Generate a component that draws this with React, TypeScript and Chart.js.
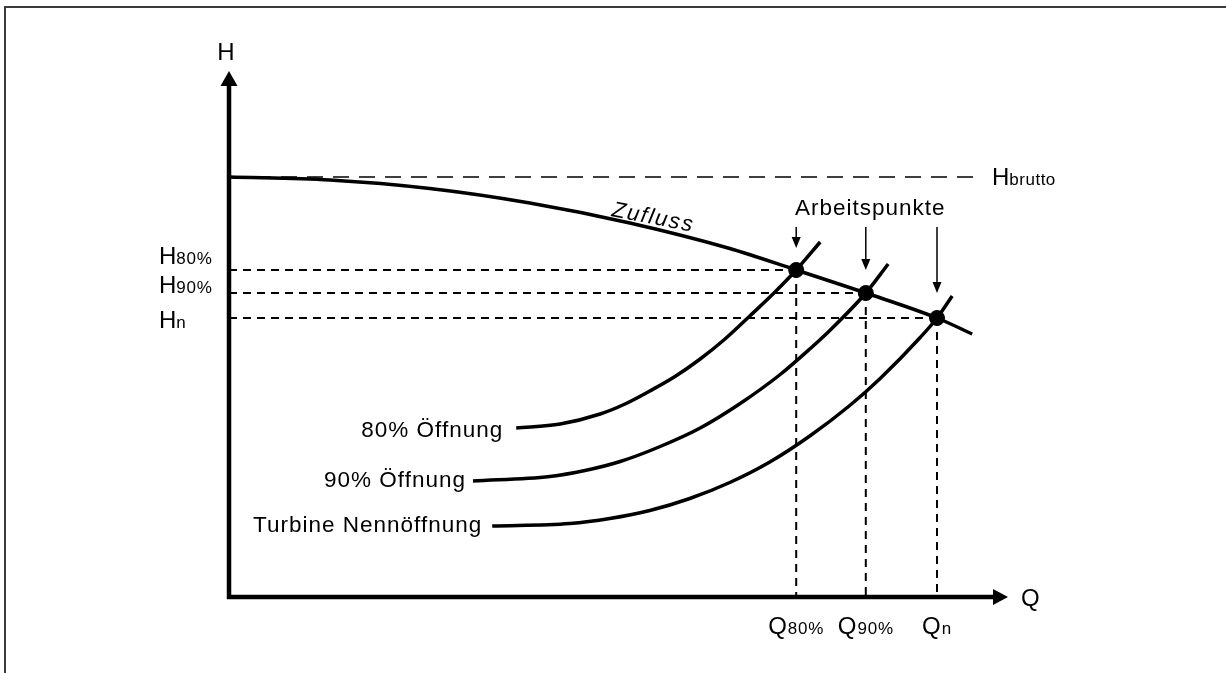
import React, { useEffect, useRef } from "react";
import { Chart, registerables } from "chart.js";

Chart.register(...registerables);

// Zufluss (inflow characteristic)
const Q_ZUFLUSS = [0, 12.6, 25.1, 37.6, 50.1, 62.6, 70.9, 79.6, 88.5, 92.9];
const H_ZUFLUSS = [84, 83.4, 81.7, 78.8, 74.8, 69.7, 65.4, 60.8, 55.8, 52.6];

// Turbine characteristic, 80% opening
const Q_T80 = [35.9, 41.4, 46.4, 49.5, 52.6, 55.75, 58.9, 62.0, 65.1, 68.25, 70.9, 73.9];
const H_T80 = [33.8, 34.6, 36.6, 38.6, 41.2, 44.1, 47.6, 51.6, 56.2, 61.0, 65.4, 71.0];

// Turbine characteristic, 90% opening
const Q_T90 = [30.5, 40.1, 44.5, 48.9, 53.75, 58.9, 63.9, 68.9, 72.6, 75.1, 79.6, 82.4];
const H_T90 = [23.2, 24.1, 25.3, 27.1, 30.0, 33.8, 38.7, 44.5, 49.6, 53.3, 60.8, 66.6];

// Turbine characteristic, nominal opening
const Q_TN = [32.9, 42.6, 47.6, 52.6, 57.6, 62.6, 67.6, 72.6, 77.6, 81.4, 86.4, 88.5, 90.4];
const H_TN = [14.2, 14.7, 15.7, 17.3, 19.7, 22.9, 27.0, 32.2, 38.3, 43.7, 51.9, 55.8, 60.2];

// Working points
const Q_WP = [70.9, 79.6, 88.5];
const H_WP = [65.4, 60.8, 55.8];
const Q_LABELS = ["80%", "90%", "n"];
const H_LABELS = ["80%", "90%", "n"];

const H_BRUTTO = 84;
const Q_BRUTTO_END = 93;

const CURVE_LABELS = ["80% Öffnung", "90% Öffnung", "Turbine Nennöffnung"];

const FONT = '"Liberation Sans", Arial, sans-serif';
const MAIN = 22.5;
const MAIN_LS = 1;
const CAP = 24;
const SUB = 17;
const SUB_LS = 0.8;

const pts = (xs: number[], ys: number[]) => xs.map((x, i) => ({ x, y: ys[i] }));

const annotations = {
  id: "annotations",
  afterDatasetsDraw(chart: any) {
    const ctx: CanvasRenderingContext2D = chart.ctx;
    const xs = chart.scales.x;
    const ys = chart.scales.y;
    const px = (v: number) => xs.getPixelForValue(v);
    const py = (v: number) => ys.getPixelForValue(v);
    const ox = px(0);
    const oy = py(0);

    ctx.save();
    // frame
    ctx.strokeStyle = "#3c3c3c";
    ctx.lineWidth = 2;
    ctx.beginPath();
    ctx.moveTo(5, 673);
    ctx.lineTo(5, 7);
    ctx.lineTo(1226, 7);
    ctx.stroke();

    // axes
    ctx.strokeStyle = "#000";
    ctx.fillStyle = "#000";
    ctx.lineWidth = 4.5;
    ctx.beginPath();
    ctx.moveTo(ox, oy + 2);
    ctx.lineTo(ox, 84);
    ctx.moveTo(ox - 2, oy);
    ctx.lineTo(995, oy);
    ctx.stroke();
    // arrowheads
    ctx.beginPath();
    ctx.moveTo(ox, 71);
    ctx.lineTo(ox - 8.5, 86);
    ctx.lineTo(ox + 8.5, 86);
    ctx.closePath();
    ctx.fill();
    ctx.beginPath();
    ctx.moveTo(1008, oy);
    ctx.lineTo(993, oy - 8);
    ctx.lineTo(993, oy + 8);
    ctx.closePath();
    ctx.fill();

    const text = (t: string, x: number, y: number, size: number, align: CanvasTextAlign = "left", ls = MAIN_LS, style = "") => {
      ctx.font = `${style} ${size}px ${FONT}`;
      (ctx as any).letterSpacing = ls + "px";
      ctx.textAlign = align;
      ctx.textBaseline = "alphabetic";
      ctx.fillText(t, x, y);
    };
    const width = (t: string, size: number, ls: number) => {
      ctx.font = `${size}px ${FONT}`;
      (ctx as any).letterSpacing = ls + "px";
      return ctx.measureText(t).width;
    };

    // axis labels
    text("H", ox - 3, 60, CAP, "center", 0);
    text("Q", 1021, 606, CAP, "left", 0);

    // H brutto label
    const wH = width("H", CAP, 0);
    text("H", 992, 185, CAP, "left", 0);
    text("brutto", 992 + wH, 185, SUB, "left", 0.5);

    // H labels on left
    const hBase = [264, 293, 328];
    H_LABELS.forEach((l, i) => {
      text("H", 159, hBase[i], CAP, "left", 0);
      text(l, 159 + wH, hBase[i], SUB, "left", SUB_LS);
    });

    // Q labels below axis
    Q_LABELS.forEach((l, i) => {
      const wQ = width("Q", CAP, 0);
      const wS = width(l, SUB, SUB_LS);
      const total = wQ + 1 + wS;
      const start = px(Q_WP[i]) - total / 2;
      text("Q", start, 634, CAP, "left", 0);
      text(l, start + wQ + 1, 634, SUB, "left", SUB_LS);
    });

    // curve labels
    const starts = [
      [Q_T80[0], H_T80[0]],
      [Q_T90[0], H_T90[0]],
      [Q_TN[0], H_TN[0]],
    ];
    const gaps = [13, 7, 10];
    const dy = [9, 6, 6];
    CURVE_LABELS.forEach((l, i) => {
      text(l, px(starts[i][0]) - gaps[i], py(starts[i][1]) + dy[i], MAIN, "right", MAIN_LS);
    });

    // Zufluss label
    ctx.save();
    ctx.translate(611, 216);
    ctx.rotate((11 * Math.PI) / 180);
    text("Zufluss", 0, 0, 22, "left", 1.8, "italic");
    ctx.restore();

    // Arbeitspunkte
    text("Arbeitspunkte", 795, 215, MAIN, "left", MAIN_LS);
    const tips = [248, 270, 293];
    ctx.lineWidth = 1.5;
    Q_WP.forEach((q, i) => {
      const x = px(q);
      ctx.beginPath();
      ctx.moveTo(x, 227);
      ctx.lineTo(x, tips[i] - 8);
      ctx.stroke();
      ctx.beginPath();
      ctx.moveTo(x, tips[i]);
      ctx.lineTo(x - 4.5, tips[i] - 11);
      ctx.lineTo(x + 4.5, tips[i] - 11);
      ctx.closePath();
      ctx.fill();
    });

    ctx.restore();
  },
};

export default function App() {
  const ref = useRef<HTMLCanvasElement>(null);
  useEffect(() => {
    if (!ref.current) return;
    const curve = (data: any, order = 1) => ({
      data,
      borderColor: "#000",
      backgroundColor: "#000",
      borderWidth: 3.5,
      pointRadius: 0,
      cubicInterpolationMode: "monotone" as const,
      fill: false,
      order,
    });
    const dashed = (data: any, dash: number[], w = 2) => ({
      data,
      borderColor: "#000",
      borderWidth: w,
      borderDash: dash,
      pointRadius: 0,
      fill: false,
      tension: 0,
      order: 10,
    });
    const datasets: any[] = [
      {
        data: pts(Q_WP, H_WP),
        showLine: false,
        pointRadius: 7.5,
        pointBackgroundColor: "#000",
        pointBorderColor: "#000",
        order: 0,
      },
      curve(pts(Q_ZUFLUSS, H_ZUFLUSS)),
      curve(pts(Q_T80, H_T80)),
      curve(pts(Q_T90, H_T90)),
      curve(pts(Q_TN, H_TN)),
      dashed([{ x: 0, y: H_BRUTTO }, { x: Q_BRUTTO_END, y: H_BRUTTO }], [16, 10], 1.5),
    ];
    Q_WP.forEach((q, i) => {
      datasets.push(dashed([{ x: 0, y: H_WP[i] }, { x: q, y: H_WP[i] }], [8, 6]));
      datasets.push(dashed([{ x: q, y: H_WP[i] }, { x: q, y: 0 }], [8, 6]));
    });
    const chart = new Chart(ref.current, {
      type: "line",
      data: { datasets },
      options: {
        responsive: false,
        animation: false,
        devicePixelRatio: 1,
        layout: { padding: { left: 229, right: 197, top: 97, bottom: 76 } },
        plugins: { legend: { display: false }, tooltip: { enabled: false } },
        scales: {
          x: { type: "linear", min: 0, max: 100, display: false },
          y: { type: "linear", min: 0, max: 100, display: false },
        },
      },
      plugins: [annotations],
    });
    return () => chart.destroy();
  }, []);
  return (
    <div style={{ position: "fixed", left: 0, top: 0, width: 1226, height: 673, background: "#fff" }}>
      <canvas ref={ref} width={1226} height={673} />
    </div>
  );
}
